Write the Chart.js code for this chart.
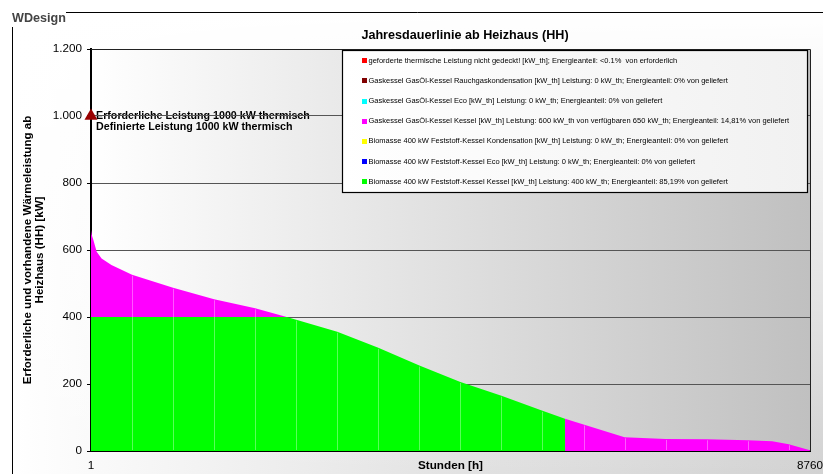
<!DOCTYPE html>
<html>
<head>
<meta charset="utf-8">
<title>Jahresdauerlinie ab Heizhaus (HH)</title>
<script src="https://cdn.jsdelivr.net/npm/chart.js@4.4.1/dist/chart.umd.min.js"></script>
<style>
  html, body { margin: 0; padding: 0; background: #ffffff; }
  canvas { display: block; }
</style>
</head>
<body>
<canvas id="chart" width="823" height="474"></canvas>
<script>
// Stunden des Jahres (sortierte Dauerlinie)
const hours = [1, 10, 30, 70, 130, 250, 501, 1001, 1501, 2001, 2385, 2501, 3001, 3501, 4001,
               4501, 5001, 5501, 5775, 5776, 6001, 6501, 7001, 7501, 8001, 8300, 8501, 8760];

// Biomasse 400 kW Feststoff-Kessel Kessel [kW_th]
const biomasseKessel = [400, 400, 400, 400, 400, 400, 400, 400, 400, 400, 400, 392, 356, 308, 255,
                        206, 165, 120, 96, 0, 0, 0, 0, 0, 0, 0, 0, 0];

// Gaskessel GasÖl-Kessel Kessel [kW_th]
const gasKessel = [260, 245, 230, 195, 175, 155, 126, 87, 53, 26, 0, 0, 0, 0, 0,
                   0, 0, 0, 0, 96, 79, 41, 36, 35, 32, 29, 20, 2];

// Serien ohne Beitrag (0 kW_th)
const nichtGedeckt = [];
const gasRauchgas = [];
const gasEco = [];
const biomasseKondensation = [];
const biomasseEco = [];

// Erforderliche / definierte Leistung [kW]
const requiredLoad = 1000;
const definedLoad = 1000;

const yTickValues = [0, 200, 400, 600, 800, 1000, 1200];
const xTickValues = [1, 8760];

// Legende (Reihenfolge von oben nach unten)
const legendLabels = [
  'geforderte thermische Leistung nicht gedeckt! [kW_th]; Energieanteil: <0.1%  von erforderlich',
  'Gaskessel GasÖl-Kessel Rauchgaskondensation [kW_th] Leistung: 0 kW_th; Energieanteil: 0% von geliefert',
  'Gaskessel GasÖl-Kessel Eco [kW_th] Leistung: 0 kW_th; Energieanteil: 0% von geliefert',
  'Gaskessel GasÖl-Kessel Kessel [kW_th] Leistung: 600 kW_th von verfügbaren 650 kW_th; Energieanteil: 14,81% von geliefert',
  'Biomasse 400 kW Feststoff-Kessel Kondensation [kW_th] Leistung: 0 kW_th; Energieanteil: 0% von geliefert',
  'Biomasse 400 kW Feststoff-Kessel Eco [kW_th] Leistung: 0 kW_th; Energieanteil: 0% von geliefert',
  'Biomasse 400 kW Feststoff-Kessel Kessel [kW_th] Leistung: 400 kW_th; Energieanteil: 85,19% von geliefert'
];
const legendColors = ['#ff0000', '#800000', '#00ffff', '#ff00ff', '#ffff00', '#0000ff', '#00ff00'];
const legendValues = [nichtGedeckt, gasRauchgas, gasEco, gasKessel, biomasseKondensation, biomasseEco, biomasseKessel];

const chartTitle = 'Jahresdauerlinie ab Heizhaus (HH)';
const xTitle = 'Stunden [h]';
const yTitle = ['Erforderliche und vorhandene Wärmeleistung ab', 'Heizhaus (HH) [kW]'];
const noteRequired = 'Erforderliche Leistung 1000 kW thermisch';
const noteDefined = 'Definierte Leistung 1000 kW thermisch';
const brand = 'WDesign';

const FONT = '"Liberation Sans", Arial, Helvetica, sans-serif';
Chart.defaults.font.family = FONT;

const toPoints = values => values.map((v, i) => ({ x: hours[i], y: v }));
const formatDe = v => String(v).replace(/\B(?=(\d{3})+(?!\d))/g, '.');

// Gestapelte Flächen: unterste Serie zuerst
const areaDatasets = [];
for (let k = legendLabels.length - 1; k >= 0; k--) {
  areaDatasets.push({
    label: legendLabels[k],
    data: toPoints(legendValues[k]),
    backgroundColor: legendColors[k],
    borderColor: legendColors[k],
    borderWidth: 0,
    pointRadius: 0,
    fill: false
  });
}
// Biomasse bis zur Nulllinie, Gaskessel bis zur Biomasse-Fläche füllen
areaDatasets[0].fill = 'origin';
areaDatasets[3].fill = 0;

const markerDataset = {
  label: noteRequired,
  data: [{ x: 1, y: requiredLoad }],
  showLine: false,
  pointStyle: 'triangle',
  pointRadius: 7.5,
  pointHoverRadius: 7.5,
  pointBackgroundColor: '#990000',
  pointBorderColor: '#990000',
  pointBorderWidth: 0,
  stack: 'marker',
  clip: false,
  fill: false
};

// Hintergründe, Rahmen, Titel und Beschriftungen unter dem Raster
const backdropPlugin = {
  id: 'backdrop',
  beforeDraw(chart) {
    const { ctx, chartArea: a, width: W, height: H } = chart;
    ctx.save();
    ctx.fillStyle = '#ffffff';
    ctx.fillRect(0, 0, W, H);

    const gx = ctx.createLinearGradient(12, 0, W, 0);
    gx.addColorStop(0, '#ffffff');
    gx.addColorStop(0.55, '#e2e2e2');
    gx.addColorStop(1, '#d2d2d2');
    ctx.fillStyle = gx;
    ctx.fillRect(12, 12, W - 12, H - 12);
    const gy = ctx.createLinearGradient(0, 12, 0, H);
    gy.addColorStop(0, 'rgba(255,255,255,1)');
    gy.addColorStop(1, 'rgba(255,255,255,0)');
    ctx.fillStyle = gy;
    ctx.fillRect(12, 12, W - 12, H - 12);

    const gp = ctx.createLinearGradient(a.left, 0, a.right, 0);
    gp.addColorStop(0, '#ffffff');
    gp.addColorStop(1, '#c0c0c0');
    ctx.fillStyle = gp;
    ctx.fillRect(a.left, a.top, a.right - a.left, a.bottom - a.top);

    ctx.strokeStyle = '#000000';
    ctx.lineWidth = 1;
    ctx.beginPath();
    ctx.moveTo(12.5, H);
    ctx.lineTo(12.5, 12.5);
    ctx.lineTo(W, 12.5);
    ctx.stroke();

    ctx.fillStyle = '#ffffff';
    ctx.fillRect(0, 0, 66, 27);
    ctx.fillStyle = '#444444';
    ctx.font = 'bold 12.6px ' + FONT;
    ctx.textAlign = 'left';
    ctx.textBaseline = 'alphabetic';
    ctx.fillText(brand, 12, 22);

    ctx.fillStyle = '#000000';
    ctx.font = 'bold 12.6px ' + FONT;
    ctx.textAlign = 'center';
    ctx.fillText(chartTitle, 465, 39);

    const xs = chart.scales.x, ys = chart.scales.y;
    const nx = xs.getPixelForValue(1) + 5;
    ctx.textAlign = 'left';
    ctx.font = 'bold 10.7px ' + FONT;
    ctx.fillText(noteRequired, nx, ys.getPixelForValue(requiredLoad) + 2.5);
    ctx.fillText(noteDefined, nx, ys.getPixelForValue(definedLoad) + 14);
    ctx.restore();
  }
};

// Helle Fugen der Flächen alle 500 Stunden
const seamPlugin = {
  id: 'seams',
  afterDatasetsDraw(chart) {
    const { ctx } = chart;
    const xs = chart.scales.x, ys = chart.scales.y;
    ctx.save();
    ctx.strokeStyle = 'rgba(255,255,255,0.35)';
    ctx.lineWidth = 1;
    hours.forEach((h, i) => {
      if (h % 500 !== 1 || h === 1) return;
      const total = biomasseKessel[i] + gasKessel[i];
      const x = Math.round(xs.getPixelForValue(h)) + 0.5;
      ctx.beginPath();
      ctx.moveTo(x, ys.getPixelForValue(0) - 1);
      ctx.lineTo(x, ys.getPixelForValue(total) + 1);
      ctx.stroke();
    });
    ctx.restore();
  }
};

// Rahmen oben und rechts
const framePlugin = {
  id: 'plotFrame',
  afterDatasetsDraw(chart) {
    const { ctx, chartArea: a } = chart;
    ctx.save();
    ctx.strokeStyle = '#222222';
    ctx.lineWidth = 1;
    ctx.beginPath();
    ctx.moveTo(a.left, Math.round(a.top) + 0.5);
    ctx.lineTo(Math.round(a.right) + 0.5, Math.round(a.top) + 0.5);
    ctx.lineTo(Math.round(a.right) + 0.5, a.bottom);
    ctx.stroke();
    ctx.restore();
  }
};

// Legende als Kasten im Diagrammbereich
const legendBoxPlugin = {
  id: 'legendBox',
  afterDraw(chart) {
    const { ctx } = chart;
    const bx = 342.5, by = 50.5, bw = 465, bh = 142;
    ctx.save();
    const g = ctx.createLinearGradient(bx, 0, bx + bw, 0);
    g.addColorStop(0, '#ffffff');
    g.addColorStop(1, '#f1f1f1');
    ctx.fillStyle = g;
    ctx.fillRect(bx, by, bw, bh);
    ctx.strokeStyle = '#000000';
    ctx.lineWidth = 1.2;
    ctx.strokeRect(bx, by, bw, bh);
    ctx.font = '7.5px ' + FONT;
    ctx.textAlign = 'left';
    ctx.textBaseline = 'middle';
    legendLabels.forEach((label, i) => {
      const y = 60.7 + i * 20.17;
      ctx.fillStyle = legendColors[i];
      ctx.fillRect(362, Math.round(y - 2.5), 5, 5);
      ctx.fillStyle = '#000000';
      ctx.fillText(label, 368.5, y);
    });
    ctx.restore();
  }
};

new Chart(document.getElementById('chart'), {
  type: 'line',
  data: { datasets: [...areaDatasets, markerDataset] },
  plugins: [backdropPlugin, seamPlugin, framePlugin, legendBoxPlugin],
  options: {
    responsive: false,
    animation: false,
    events: [],
    layout: { padding: { left: 0, right: 13, top: 49, bottom: 0 } },
    elements: { line: { tension: 0 }, point: { radius: 0 } },
    plugins: {
      legend: { display: false },
      title: { display: false },
      tooltip: { enabled: false }
    },
    scales: {
      x: {
        type: 'linear',
        min: 1,
        max: 8760,
        afterBuildTicks: s => { s.ticks = xTickValues.map(v => ({ value: v })); },
        afterFit: s => { s.height = 23; s.paddingLeft = 0; s.paddingRight = 13; },
        ticks: {
          autoSkip: false,
          maxRotation: 0,
          padding: 8,
          color: '#000000',
          font: { family: FONT, size: 11.7 },
          callback: v => String(v)
        },
        grid: { display: false, drawTicks: false },
        border: { display: true, color: '#000000', width: 2 },
        title: {
          display: true,
          text: xTitle,
          color: '#000000',
          font: { family: FONT, size: 11.7, weight: 'bold', lineHeight: 1.1 },
          padding: { top: 0, bottom: 1.5 }
        }
      },
      y: {
        type: 'linear',
        min: 0,
        max: 1200,
        stacked: true,
        afterBuildTicks: s => { s.ticks = yTickValues.map(v => ({ value: v })); },
        afterFit: s => { s.width = 91; },
        ticks: {
          padding: 5,
          color: '#000000',
          font: { family: FONT, size: 11.7 },
          callback: v => formatDe(v)
        },
        grid: { color: '#555555', lineWidth: 1, drawTicks: true, tickLength: 4, tickColor: '#000000' },
        border: { display: true, color: '#000000', width: 2 },
        title: {
          display: true,
          text: yTitle,
          color: '#000000',
          font: { family: FONT, size: 11.6, weight: 'bold', lineHeight: 1.0 },
          padding: { top: 22, bottom: 0 }
        }
      }
    }
  }
});
</script>
</body>
</html>
